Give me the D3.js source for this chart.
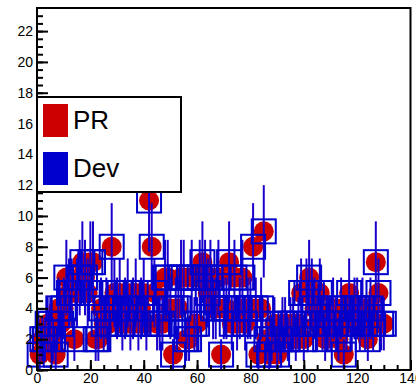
<!DOCTYPE html>
<html><head><meta charset="utf-8">
<script src="https://cdn.jsdelivr.net/npm/d3@7/dist/d3.min.js"></script>
<style>body{margin:0;background:#fff}svg{display:block}text{font-family:"Liberation Sans",Arial,Helvetica,sans-serif}</style>
</head><body><svg id="c" width="416" height="385"></svg>
<script>
// ---- data ----
const xIndex = d3.range(1, 131);
const counts = [1,2,2,3,3,2,1,4,3,4, 6,5,5,2,5,6,7,6,5,7, 7,2,2,4,3,4,3,8,5,4,
                5,3,4,5,3,4,5,3,4,5, 3,11,8,5,3,3,3,6,6,4, 1,4,4,6,6,2,2,6,3,3,
                6,7,6,5,6,4,4,6,1,4, 4,7,3,6,3,4,6,3,4,4, 8,4,1,4,9,2,1,2,3,1,
                2,3,3,2,3,3,2,3,5,2, 5,6,5,4,3,5,3,2,3,3, 4,3,2,4,1,3,5,3,4,4,
                3,4,3,2,4,3,7,5,3,3];
const errorByCount = {0:0,1:1,2:1.41,3:1.73,4:2,5:2.24,6:2.45,7:2.65,8:2.83,9:3,10:3.16,11:3.32};
const xTicks = [0,20,40,60,80,100,120,140];
const yTicks = [0,2,4,6,8,10,12,14,16,18,20,22];
const legendLabels = ["PR","Dev"];
const colors = {PR:"#cc0000", Dev:"#0000cc"};

const pts = xIndex.map((x,i)=>({x, y:counts[i], e:errorByCount[counts[i]]}));

const svg = d3.select("#c");
const x = d3.scaleLinear().domain([0,140]).range([37,410.5]);
const y = d3.scaleLinear().domain([0,23.5]).range([370,8]);

svg.append("rect").attr("width",416).attr("height",385).attr("fill","#fff");

// PR circles
svg.append("g").selectAll("circle").data(pts).join("circle")
  .attr("cx",d=>x(d.x)).attr("cy",d=>y(d.y)).attr("r",10).attr("fill",colors.PR);

// Dev error bars
svg.append("g").selectAll("line").data(pts).join("line")
  .attr("x1",d=>x(d.x)).attr("x2",d=>x(d.x))
  .attr("y1",d=>y(d.y-d.e)).attr("y2",d=>y(d.y+d.e))
  .attr("stroke","#1a00cc").attr("stroke-width",2);

// Dev squares
svg.append("g").selectAll("rect").data(pts).join("rect")
  .attr("x",d=>x(d.x)-12).attr("y",d=>y(d.y)-12).attr("width",24).attr("height",24)
  .attr("fill","none").attr("stroke",colors.Dev).attr("stroke-width",2);

// frame
svg.append("rect").attr("x",37).attr("y",8).attr("width",373.5).attr("height",362)
  .attr("fill","none").attr("stroke","#000").attr("stroke-width",2);

// x axis
const gx = svg.append("g").attr("transform","translate(0,370)");
gx.call(d3.axisBottom(x).tickValues(d3.range(0,141,5)).tickSize(-5).tickFormat(""));
gx.call(g=>g.select(".domain").remove());
const gx2 = svg.append("g").attr("transform","translate(0,370)");
gx2.call(d3.axisBottom(x).tickValues(xTicks).tickSize(-10).tickPadding(3).tickFormat(d3.format("d")));
gx2.call(g=>g.select(".domain").remove());

// y axis
const gy = svg.append("g").attr("transform","translate(37,0)");
gy.call(d3.axisLeft(y).tickValues(d3.range(0,23.01,0.5)).tickSize(-6).tickFormat(""));
gy.call(g=>g.select(".domain").remove());
const gy2 = svg.append("g").attr("transform","translate(37,0)");
gy2.call(d3.axisLeft(y).tickValues(yTicks).tickSize(-11).tickPadding(4).tickFormat(d3.format("d")));
gy2.call(g=>g.select(".domain").remove());

svg.selectAll(".tick line").attr("stroke","#000").attr("stroke-width",2);
svg.selectAll(".tick text").attr("font-size",14).attr("fill","#000")
   .style("font-family","'Liberation Sans',Arial,Helvetica,sans-serif");

// legend
const lg = svg.append("g");
lg.append("rect").attr("x",37).attr("y",97).attr("width",144).attr("height",95)
  .attr("fill","#fff").attr("stroke","#000").attr("stroke-width",2);
legendLabels.forEach((lab,i)=>{
  lg.append("rect").attr("x",43).attr("y",104+i*48).attr("width",25).attr("height",33)
    .attr("fill",colors[lab]);
  lg.append("text").attr("x",73).attr("y",129+i*48).attr("font-size",26).attr("fill","#000").text(lab);
});
</script></body></html>
